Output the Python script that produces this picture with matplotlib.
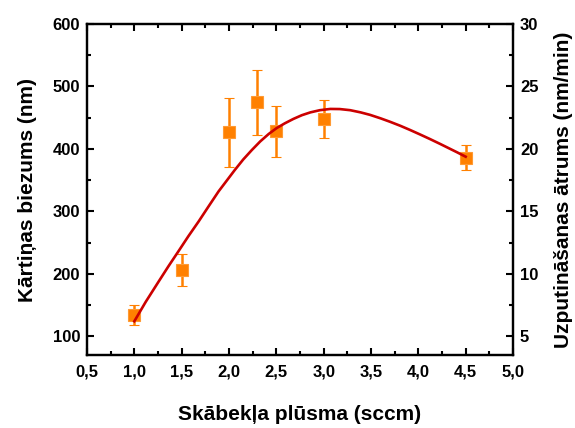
import matplotlib
matplotlib.use("Agg")
import matplotlib.pyplot as plt
from matplotlib.ticker import MultipleLocator

plt.rcParams['font.family'] = ['Liberation Sans', 'DejaVu Sans']
plt.rcParams['font.weight'] = 'bold'

# data
flow = [1.0, 1.5, 2.0, 2.3, 2.5, 3.0, 4.5]
thickness = [134, 206, 427, 475, 428, 448, 386]
err_low = [16, 26, 56, 52, 41, 30, 19]
err_high = [16, 26, 55, 52, 41, 30, 20]

fit_x = [1.0, 1.12, 1.25, 1.36, 1.47, 1.57, 1.68, 1.78, 1.89, 1.98, 2.06, 2.15, 2.24,
         2.33, 2.42, 2.5, 2.59, 2.68, 2.77, 2.86, 2.96, 3.07, 3.17, 3.28, 3.39, 3.49,
         3.6, 3.7, 3.81, 3.91, 4.02, 4.12, 4.23, 4.33, 4.41, 4.5]
fit_y = [124, 155, 186, 212, 237, 260, 284, 307, 332, 350, 366, 383, 398,
         412, 424, 433, 441, 448, 454, 458.5, 462, 464, 463.8, 462, 458.5, 454.5,
         449, 443.5, 437, 430.5, 423, 416, 408, 400.5, 394.5, 387.5]

x_ticks = [0.5, 1.0, 1.5, 2.0, 2.5, 3.0, 3.5, 4.0, 4.5, 5.0]
x_tick_labels = ['0,5', '1,0', '1,5', '2,0', '2,5', '3,0', '3,5', '4,0', '4,5', '5,0']
y_ticks = [100, 200, 300, 400, 500, 600]
y2_ticks = [5, 10, 15, 20, 25, 30]

fig = plt.figure(figsize=(5.75, 4.28), dpi=100)
ax = fig.add_axes([87/575, 1 - 355/428, (513-87)/575, (355-24)/428])

ax.plot(fit_x, fit_y, color='#CC0000', lw=1.9, zorder=3, solid_joinstyle='round')
ax.errorbar(flow, thickness, yerr=[err_low, err_high], fmt='s', color='#FF8000',
            ms=8.8, mec='#FF9A33', mew=0.8, ecolor='#FF8000', elinewidth=1.8,
            capsize=3.8, capthick=1.8, zorder=2)

ax.set_xlim(0.5, 5.0)
ax.set_ylim(70, 600)
ax.set_xticks(x_ticks)
ax.set_xticklabels(x_tick_labels)
ax.xaxis.set_minor_locator(MultipleLocator(0.25))
ax.set_yticks(y_ticks)
ax.yaxis.set_minor_locator(MultipleLocator(50))

for s in ax.spines.values():
    s.set_linewidth(1.6)

ax.tick_params(axis='x', which='both', direction='in', top=True, bottom=True,
               labelsize=12, width=1.5, pad=7)
ax.tick_params(axis='y', which='both', direction='in', left=True, right=False,
               labelsize=12, width=1.5, pad=5)
ax.tick_params(which='major', length=5)
ax.tick_params(which='minor', length=3)

ax.set_xlabel('Skābekļa plūsma (sccm)', fontsize=15, fontweight='bold', labelpad=18)
ax.set_ylabel('Kārtiņas biezums (nm)', fontsize=15, fontweight='bold', labelpad=11)

ax2 = ax.twinx()
ax2.set_ylim(70/20, 600/20)
ax2.set_yticks(y2_ticks)
ax2.yaxis.set_minor_locator(MultipleLocator(2.5))
ax2.tick_params(axis='y', which='both', direction='in', labelsize=12, width=1.5, pad=5)
ax2.tick_params(which='major', length=5)
ax2.tick_params(which='minor', length=3)
for s in ax2.spines.values():
    s.set_linewidth(1.6)
ax2.set_ylabel('Uzputināšanas ātrums (nm/min)', fontsize=15, fontweight='bold', labelpad=11)

fig.savefig('out.png', dpi=100)
